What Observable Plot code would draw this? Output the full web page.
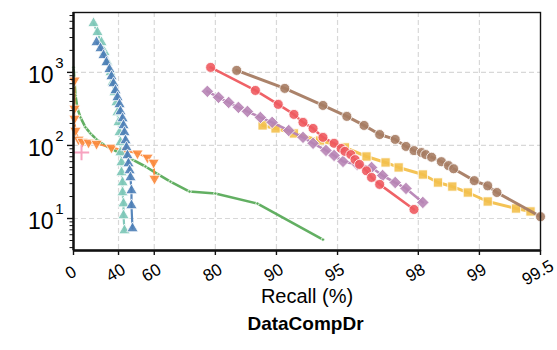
<!DOCTYPE html>
<html>
<head>
<meta charset="utf-8">
<script src="https://cdn.jsdelivr.net/npm/d3@7"></script>
<script src="https://cdn.jsdelivr.net/npm/@observablehq/plot@0.6"></script>
<style>
  body { margin: 0; background: #fff; font-family: "Liberation Sans", Arial, sans-serif; }
  #title { width: 503px; padding-left: 54px; text-align: center; font-weight: bold; font-size: 19px; line-height: 24px; color: #000; }
</style>
</head>
<body>
<div id="chart"></div>
<div id="title">DataCompDr</div>
<script>
// ---- tick labels ----
const xTickVals = [0, 40, 60, 80, 90, 95, 98, 99, 99.5];
const yTickVals = [10, 100, 1000];
const yTickExp = ["1", "2", "3"];
const yMinorTicks = [4,5,6,7,8,9, 20,30,40,50,60,70,80,90, 200,300,400,500,600,700,800,900, 2000,3000,4000,5000,6000];

// ---- series (recall %, value) ----
const greenRecall = [0, 1.1, 2.2, 4.4, 7.6, 12.7, 17.5, 23.0, 28.9, 34.3, 41.3, 48.8, 55.8, 61.9, 66.7, 73.2, 80.0, 87.6, 94.1];
const greenValue  = [1170, 777, 484, 321, 242, 177, 146, 121, 103, 91, 78, 64, 51.5, 40, 32, 23.4, 22, 16, 5.15];

const orangeRecall = [1.1, 1.1, 1.1, 2.2, 5.5, 9.7, 15.7, 23.0, 35.0, 43.9, 51.6, 56.8, 59.7, 60.1];
const orangeValue  = [777, 321, 234, 160, 121, 113, 110, 106, 94, 85.5, 78, 68.5, 58.5, 35.3];

const pinkRecall = [8.7];
const pinkValue  = [80];

const tealRecall = [20.3, 23.8, 27.2, 29.7, 32.0, 34.3, 35.8, 37.2, 38.6, 39.3, 40.0, 40.7, 41.3, 41.3, 42.0, 42.0, 42.7, 42.7, 43.3, 43.3, 43.9];
const tealValue  = [4690, 3530, 2575, 1880, 1371, 1000, 730, 532, 388, 283, 207, 151, 110, 80, 58.5, 42.7, 31.1, 22.7, 16.0, 11.0, 6.85];

const blueRecall = [23.0, 26.4, 28.9, 31.2, 33.5, 35.0, 36.5, 37.9, 39.3, 40.7, 41.3, 42.7, 43.3, 43.9, 44.6, 45.2, 45.8, 46.4, 47.1, 47.6, 48.2, 48.2, 48.8];
const blueValue  = [2575, 2130, 1710, 1371, 1100, 881, 706, 566, 455, 365, 292, 234, 188, 151, 117, 94, 73, 56.6, 45.5, 36.5, 24.2, 15.1, 7.3];

const yellowRecall = [88.3, 89.9, 91.8, 93.9, 95.4, 96.4, 97.1, 97.5, 98.1, 98.4, 98.64, 98.86, 99.09, 99.34, 99.44];
const yellowValue  = [188, 171, 146, 117, 94, 70.6, 58.5, 50, 40, 31.1, 27.4, 22.7, 17.1, 13.7, 12.5];

const purpleRecall = [78.1, 80.7, 82.8, 84.6, 86.1, 88.0, 89.5, 91.3, 92.6, 93.4, 94.3, 94.8, 95.3, 96.0, 96.6, 97.0, 97.4, 97.7, 98.1];
const purpleValue  = [550, 455, 388, 332, 292, 242, 207, 160, 129, 107, 85.5, 73, 60.4, 55, 50, 38.8, 31.1, 25.8, 16.6];

const redRecall = [78.9, 87.3, 90.2, 91.8, 92.6, 93.4, 94.1, 94.8, 95.2, 95.4, 95.7, 95.9, 96.1, 96.4, 96.6, 96.9, 97.9];
const redValue  = [1170, 566, 365, 266, 207, 171, 129, 107, 91, 83, 75, 64, 55, 45, 36.5, 29.3, 13.3];

const brownRecall = [84.3, 90.9, 94.1, 95.5, 96.3, 96.9, 97.4, 97.7, 97.9, 98.07, 98.16, 98.28, 98.46, 98.58, 98.66, 98.94, 99.09, 99.18, 99.5];
const brownValue  = [1065, 604, 353, 250, 188, 141, 121, 97, 85, 80, 75, 69, 60, 53, 48, 33, 28, 22.7, 10.6];

const series = [
  {x: greenRecall,  y: greenValue,  color: "#5aab5a", symbol: "circle",   r: 1.7, sw: 2.6, rot: 0},
  {x: orangeRecall, y: orangeValue, color: "#fb8a3c", symbol: "triangle", r: 4.2, sw: 2.0, rot: 180},
  {x: pinkRecall,   y: pinkValue,   color: "#f7a3c0", symbol: "plus",     r: 5.0, sw: 2.0, rot: 0},
  {x: tealRecall,   y: tealValue,   color: "#7cc6b7", symbol: "triangle", r: 4.2, sw: 2.2, rot: 0},
  {x: blueRecall,   y: blueValue,   color: "#4e80b7", symbol: "triangle", r: 4.2, sw: 2.2, rot: 0},
  {x: yellowRecall, y: yellowValue, color: "#f3c04c", symbol: "square",   r: 5.2, sw: 3.0, rot: 0},
  {x: purpleRecall, y: purpleValue, color: "#b784b5", symbol: "diamond2", r: 5.6, sw: 2.6, rot: 0},
  {x: redRecall,    y: redValue,    color: "#ee5a5f", symbol: "circle",   r: 5.0, sw: 2.6, rot: 0},
  {x: brownRecall,  y: brownValue,  color: "#a67c63", symbol: "circle",   r: 5.0, sw: 3.0, rot: 0}
];

const seriesMarks = series.flatMap(s => {
  const rows = s.x.map((x, i) => ({recall: x, value: s.y[i]}));
  const marks = [];
  if (rows.length > 1) {
    marks.push(Plot.line(rows, {x: d => 100 - d.recall, y: "value", stroke: s.color, strokeWidth: s.sw, strokeOpacity: 0.95}));
  }
  if (s.symbol === "plus") {
    marks.push(Plot.dot(rows, {x: d => 100 - d.recall, y: "value", symbol: "plus", r: s.r, stroke: s.color, strokeWidth: 2}));
  } else {
    marks.push(Plot.dot(rows, {x: d => 100 - d.recall, y: "value", symbol: s.symbol, r: s.r, rotate: s.rot,
      fill: s.color, fillOpacity: 0.9, stroke: "white", strokeWidth: 0.8}));
  }
  return marks;
});

const chart = Plot.plot({
  width: 557,
  height: 312,
  marginLeft: 73,
  marginRight: 17,
  marginTop: 12,
  marginBottom: 62,
  style: {fontFamily: "Liberation Sans, Arial, sans-serif", color: "#000", background: "white", overflow: "visible"},
  x: {type: "log", domain: [100, 0.5], axis: null},
  y: {type: "log", domain: [3.65, 6600], axis: null},
  marks: [
    Plot.gridX(xTickVals.slice(1, -1).map(v => 100 - v), {stroke: "#d8d8d8", strokeOpacity: 1, strokeDasharray: "5,3", strokeWidth: 1.2}),
    Plot.gridY(yTickVals, {stroke: "#d8d8d8", strokeOpacity: 1, strokeDasharray: "5,3", strokeWidth: 1.2}),
    ...seriesMarks,
    Plot.frame({stroke: "#111", strokeWidth: 1.4}),
    Plot.axisY(yTickVals, {tickSize: 6, tickFormat: () => "", label: null, strokeWidth: 1.4, stroke: "#111"}),
    Plot.axisY(yMinorTicks, {tickSize: 3.5, tickFormat: () => "", label: null, strokeWidth: 1, stroke: "#111"}),
    Plot.axisX(xTickVals.map(v => 100 - v), {tickSize: 5, tickFormat: () => "", label: null, strokeWidth: 1.4, stroke: "#111"}),
    Plot.ruleX([100], {stroke: "#111", strokeWidth: 2.4}),
    Plot.ruleY([3.65], {stroke: "#111", strokeWidth: 2.4}),
    Plot.text(yTickVals, {y: d => d, frameAnchor: "left", dx: -20, dy: 3, text: () => "10", textAnchor: "end", fontSize: 23, fill: "#000"}),
    Plot.text(yTickVals, {y: d => d, frameAnchor: "left", dx: -10, dy: -9, text: (d, i) => yTickExp[i], textAnchor: "end", fontSize: 15, fill: "#000"}),
    Plot.text(xTickVals, {x: d => 100 - d, frameAnchor: "bottom", dy: 27, text: d => String(d), rotate: -30, textAnchor: "middle", fontSize: 17, fill: "#000"}),
    Plot.text(["Recall (%)"], {frameAnchor: "bottom", dy: 52, text: d => d, fontSize: 20, fill: "#000"})
  ]
});
document.getElementById("chart").appendChild(chart);
</script>
</body>
</html>
